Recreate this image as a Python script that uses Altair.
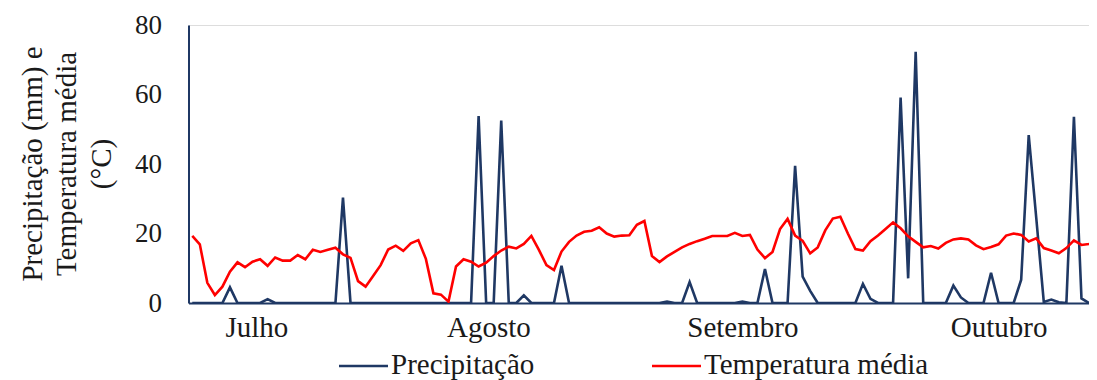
import altair as alt
import pandas as pd

# Daily values, 1 July onwards (index 0 = 1 July)
precipitacao = [
    0, 0, 0, 0, 0, 4.5, 0, 0, 0, 0,
    1.1, 0, 0, 0, 0, 0, 0, 0, 0, 0,
    30.3, 0, 0, 0, 0, 0, 0, 0, 0, 0,
    0, 0, 0, 0, 0, 0, 0, 0, 53.8, 0,
    0, 52.5, 0, 0, 2.2, 0, 0, 0, 0, 10.7,
    0, 0, 0, 0, 0, 0, 0, 0, 0, 0,
    0, 0, 0, 0.4, 0, 0, 6.0, 0, 0, 0,
    0, 0, 0, 0.4, 0, 0, 9.8, 0, 0, 0,
    39.5, 7.6, 3.5, 0, 0, 0, 0, 0, 0, 5.5,
    1.2, 0, 0, 0, 59.1, 7.1, 72.3, 0, 0, 0,
    0, 5.0, 1.6, 0, 0, 0, 8.7, 0, 0, 0,
    6.7, 48.3, 24.5, 0.3, 1.0, 0.2, 0, 53.6, 1.3, 0,
    0,
]
temperatura = [
    19.3, 16.9, 5.8, 2.3, 4.7, 9.0, 11.7, 10.3, 11.9, 12.6,
    10.7, 13.1, 12.2, 12.2, 13.8, 12.6, 15.3, 14.7, 15.3, 15.9,
    14.0, 13.0, 6.3, 4.7, 7.8, 10.9, 15.4, 16.5, 15.0, 17.2,
    18.1, 12.7, 2.8, 2.4, 0.4, 10.5, 12.6, 11.9, 10.5, 11.6,
    13.5, 15.1, 16.2, 15.7, 17.0, 19.3, 15.3, 10.9, 9.5, 14.8,
    17.6, 19.4, 20.5, 20.8, 21.8, 20.0, 19.1, 19.4, 19.5, 22.5,
    23.6, 13.5, 11.8, 13.4, 14.7, 16.0, 17.0, 17.8, 18.5, 19.3,
    19.3, 19.3, 20.2, 19.3, 19.6, 15.4, 12.9, 14.7, 21.3, 24.2,
    19.4, 17.9, 14.3, 16.0, 20.9, 24.3, 24.8, 20.0, 15.5, 15.1,
    17.8, 19.4, 21.3, 23.2, 21.5, 19.2, 17.6, 16.0, 16.4, 15.7,
    17.3, 18.3, 18.6, 18.3, 16.6, 15.5, 16.1, 16.9, 19.4, 20.0,
    19.6, 17.7, 18.6, 15.8, 15.1, 14.3, 15.8, 18.0, 16.7, 17.0,
    17.6,
]
dias = list(range(len(temperatura)))

meses = ["Julho", "Agosto", "Setembro", "Outubro"]
meses_pos = [8.5, 39.3, 73.0, 107.0]
y_ticks = [0, 20, 40, 60, 80]

serie_nomes = ["Precipitação", "Temperatura média"]
serie_cores = ["#1f3864", "#ff0000"]

FONT = "Liberation Serif"
TXT = "#1a1a1a"
FS = 29

df = pd.DataFrame({"dia": dias, "prec": precipitacao, "temp": temperatura})

label_expr = " : ".join(
    [f"datum.value < {(meses_pos[i] + meses_pos[i + 1]) / 2} ? '{meses[i]}'" for i in range(len(meses) - 1)]
) + f" : '{meses[-1]}'"

x_enc = alt.X(
    "dia:Q",
    scale=alt.Scale(domain=[-0.5, 119], nice=False, zero=False),
    axis=alt.Axis(
        values=meses_pos, labelExpr=label_expr, title=None, grid=False, ticks=False,
        domain=True, domainColor=serie_cores[0], domainWidth=2,
        labelFont=FONT, labelFontSize=FS, labelColor=TXT, labelPadding=10,
    ),
)
y_scale = alt.Scale(domain=[0, 80], nice=False)
y_axis = alt.Axis(
    values=y_ticks, title=None, grid=False, ticks=False, domain=True,
    domainColor=serie_cores[0], domainWidth=2,
    labelFont=FONT, labelFontSize=27, labelColor=TXT, labelPadding=27,
)

base = alt.Chart(df)
prec_line = base.mark_line(color=serie_cores[0], strokeWidth=2.6, clip=True).encode(
    x=x_enc, y=alt.Y("prec:Q", scale=y_scale, axis=y_axis)
)
temp_line = base.mark_line(color=serie_cores[1], strokeWidth=2.6, clip=True).encode(
    x=x_enc, y=alt.Y("temp:Q", scale=y_scale)
)

# y-axis title (three lines, rotated)
titulo = ["Precipitação (mm) e", "Temperatura média", "(°C)"]
titulo_x = [-155.5, -121.5, -86.5]
title_layers = [
    alt.Chart(pd.DataFrame({"t": [t]})).mark_text(
        angle=270, align="center", baseline="middle", font=FONT, fontSize=FS, color=TXT
    ).encode(text="t:N", x=alt.value(xv), y=alt.value(139))
    for t, xv in zip(titulo, titulo_x)
]

# legend
leg_x = [150.5, 463.5]
leg_layers = []
for nome, cor, lx in zip(serie_nomes, serie_cores, leg_x):
    leg_layers.append(
        alt.Chart(pd.DataFrame({"t": [nome]})).mark_rule(color=cor, strokeWidth=2.6).encode(
            x=alt.value(lx), x2=alt.value(lx + 49), y=alt.value(341)
        )
    )
    leg_layers.append(
        alt.Chart(pd.DataFrame({"t": [nome]})).mark_text(
            align="left", baseline="middle", font=FONT, fontSize=FS, color=TXT
        ).encode(text="t:N", x=alt.value(lx + 52), y=alt.value(340))
    )

chart = alt.layer(prec_line, temp_line, *title_layers, *leg_layers).properties(
    width=900.5,
    height=278,
    autosize=alt.AutoSizeParams(type="none"),
    padding={"left": 180.5, "top": 17, "right": 0, "bottom": 77},
).configure_view(stroke=None).configure(background="white")

chart.save("out.html", embed_options={"renderer": "svg", "actions": False})
